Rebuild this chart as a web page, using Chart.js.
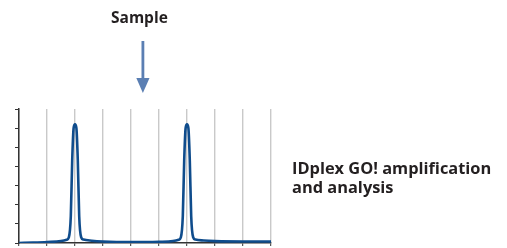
<!DOCTYPE html>
<html>
<head>
<meta charset="utf-8">
<script src="https://cdn.jsdelivr.net/npm/chart.js@4"></script>
<style>
  body { margin: 0; background: #fff; }
  #wrap { position: relative; width: 507px; height: 248px; }
  #grafico { position: absolute; left: 0; top: 0; }
  .lbl { position: absolute; font-family: "Open Sans", sans-serif; font-weight: 700; color: #231f20; white-space: nowrap; }
</style>
</head>
<body>
<div id="wrap">
  <canvas id="grafico" width="507" height="248"></canvas>
  <div class="lbl" id="sample" style="left:111px; top:6px; font-size:15.5px;">Sample</div>
  <div class="lbl" id="titulo" style="left:292px; top:159px; font-size:16.4px; line-height:18.5px;">IDplex GO! amplification<br>and analysis</div>
</div>
<script>
// posiciones en x (unidades de rejilla) y señal
const tiempos = [0, 0.5, 1, 1.5, 1.7, 1.78, 1.85, 1.9, 1.95, 2, 2.05, 2.1, 2.15, 2.22, 2.3, 2.6, 3, 4,
                 4.5, 5, 5.5, 5.7, 5.78, 5.85, 5.9, 5.95, 6, 6.05, 6.1, 6.15, 6.22, 6.3, 6.6, 7, 8, 9];
const senal   = [0, 0.02, 0.05, 0.1, 0.17, 0.3, 1.4, 4.3, 6.0, 6.2, 6.0, 4.3, 1.4, 0.3, 0.18, 0.12, 0.08, 0.05,
                 0.05, 0.06, 0.1, 0.17, 0.3, 1.4, 4.3, 6.0, 6.2, 6.0, 4.3, 1.4, 0.3, 0.18, 0.13, 0.1, 0.08, 0.08];
const ticksX = [0, 1, 2, 3, 4, 5, 6, 7, 8, 9];
const ticksY = [0, 1, 2, 3, 4, 5, 6, 7];

const flecha = {
  id: "flecha",
  afterDraw(chart) {
    const c = chart.ctx;
    c.save();
    c.fillStyle = "#5b7fb3";
    c.fillRect(141.5, 41, 2.8, 38);
    c.beginPath();
    c.moveTo(136.3, 78);
    c.lineTo(149.5, 78);
    c.lineTo(142.9, 93);
    c.closePath();
    c.fill();
    c.restore();
  }
};

const ctx = document.querySelector("#grafico").getContext("2d");
new Chart(ctx, {
  type: "line",
  data: {
    datasets: [{
      data: tiempos.map((t, i) => ({ x: t, y: senal[i] })),
      borderColor: "#0f4c8c",
      borderWidth: 2.6,
      pointRadius: 0,
      cubicInterpolationMode: "monotone",
      fill: false
    }]
  },
  options: {
    responsive: false,
    animation: false,
    events: [],
    layout: { padding: { left: 0, top: 109, right: 236, bottom: 0 } },
    plugins: { legend: { display: false }, tooltip: { enabled: false } },
    scales: {
      x: {
        type: "linear", min: 0, max: 9,
        afterBuildTicks: s => { s.ticks = ticksX.map(v => ({ value: v })); },
        afterFit: s => { s.height = 5; },
        ticks: { display: false },
        grid: { color: "#c9c9c9", lineWidth: 1.4, tickLength: 3, tickColor: "#333", tickWidth: 1 },
        border: { color: "#333", width: 1.5 }
      },
      y: {
        min: 0, max: 7,
        afterBuildTicks: s => { s.ticks = ticksY.map(v => ({ value: v })); },
        afterFit: s => { s.width = 19; },
        ticks: { display: false },
        grid: { drawOnChartArea: false, tickLength: 4, tickColor: "#333", color: "#333" },
        border: { color: "#333", width: 1.5 }
      }
    }
  },
  plugins: [flecha]
});
</script>
</body>
</html>
